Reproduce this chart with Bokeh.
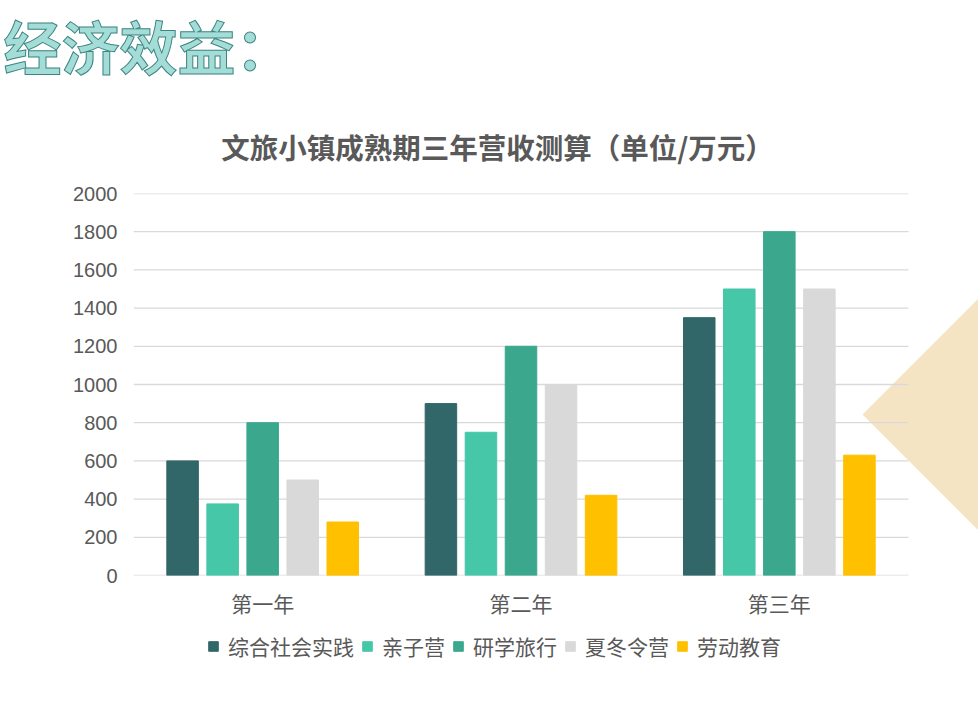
from bokeh.plotting import figure
from bokeh.layouts import column
from bokeh.models import (Range1d, ColumnDataSource, Legend, LegendItem, Label, Title,
                          PolyAnnotation, FixedTicker, CustomJSTickFormatter)
from bokeh.transform import dodge
from bokeh.embed import file_html
from bokeh.resources import INLINE

# ---- data ----
years = ["第一年", "第二年", "第三年"]
series = ["综合社会实践", "亲子营", "研学旅行", "夏冬令营", "劳动教育"]
v_zonghe = [600, 900, 1350]
v_qinzi = [375, 750, 1500]
v_yanxue = [800, 1200, 1800]
v_xiadong = [500, 1000, 1500]
v_laodong = [280, 420, 630]
y_ticks = [0, 200, 400, 600, 800, 1000, 1200, 1400, 1600, 1800, 2000]
heading = "经济效益："
chart_title = "文旅小镇成熟期三年营收测算（单位/万元）"

# ---- style ----
colors = ["#326769", "#46C7A8", "#3BA88E", "#D9D9D9", "#FFC000"]
offsets = [-0.31, -0.155, 0.0, 0.155, 0.31]
bar_w = 0.122
CJK = "Noto Sans CJK SC"
GREY = "#595959"

W = 978
FL = 133             # frame left (all stacked figures share it)
PAD_T = 15           # room above the chart frame for the top tick label
TOP_H = 193 - PAD_T  # header strip height
CH_H = 427 + PAD_T   # chart figure height
LEG_H = 56
CAT_PX = 775 / 3.0   # pixels per category
x_end = (W - FL) / CAT_PX

common = dict(output_backend="svg", toolbar_location=None)

# ---------- header ----------
top = figure(width=W, height=TOP_H, x_range=Range1d(0, 1), y_range=Range1d(0, 1),
             min_border=0, min_border_left=FL, **common)
top.axis.visible = False
top.grid.visible = False
top.outline_line_color = None
head_kw = dict(text=heading, align="left", offset=3 - FL, standoff=0,
               text_font=CJK, text_font_size="58px", text_font_style="bold",
               text_color="#A4DCD7")
if "text_outline_color" in Title.properties():
    head_kw["text_outline_color"] = "#3D8581"
top.add_layout(Title(**head_kw), "above")
top.add_layout(Label(x=497 - FL, y=TOP_H - 146, x_units="screen", y_units="screen",
                     text=chart_title, text_align="center", text_baseline="middle",
                     text_font=CJK, text_font_size="28.5px", text_font_style="bold",
                     text_color=GREY))

# ---------- chart ----------
xc = [i + 0.5 for i in range(len(years))]
src = ColumnDataSource(data=dict(xc=xc, s0=v_zonghe, s1=v_qinzi, s2=v_yanxue,
                                 s3=v_xiadong, s4=v_laodong))

p = figure(width=W, height=CH_H, x_range=Range1d(0, x_end), y_range=Range1d(0, 2000),
           min_border_left=FL, min_border_right=0, min_border_top=PAD_T,
           min_border_bottom=CH_H - PAD_T - 383, **common)
p.outline_line_color = None
p.grid.visible = False

# decorative triangle (screen units: from frame bottom-left)
tri = PolyAnnotation(xs=[862 - FL, 1030 - FL, 1030 - FL],
                     ys=[576 - 415, 576 - 247, 576 - 583],
                     xs_units="screen", ys_units="screen",
                     fill_color="#F5E4C4", fill_alpha=1.0, line_color=None, level="underlay")
p.add_layout(tri)

# horizontal grid lines limited to the category area
p.segment(x0=[0] * len(y_ticks), x1=[len(years)] * len(y_ticks), y0=y_ticks, y1=y_ticks,
          line_color="#D9D9D9", line_width=1.3)

for i, name in enumerate(series):
    p.vbar(x=dodge("xc", offsets[i]), top="s%d" % i, width=bar_w, source=src,
           fill_color=colors[i], line_color=colors[i])

p.yaxis.ticker = FixedTicker(ticks=y_ticks)
p.yaxis.axis_line_color = None
p.yaxis.major_tick_line_color = None
p.yaxis.minor_tick_line_color = None
p.yaxis.major_tick_out = 0
p.yaxis.major_label_standoff = 16
p.yaxis.major_label_text_font = "Liberation Sans"
p.yaxis.major_label_text_font_size = "20px"
p.yaxis.major_label_text_color = GREY

p.xaxis.ticker = FixedTicker(ticks=xc)
p.xaxis.formatter = CustomJSTickFormatter(args=dict(labels=years),
                                          code="return labels[Math.round(tick - 0.5)] || '';")
p.xaxis.axis_line_color = None
p.xaxis.major_tick_line_color = None
p.xaxis.minor_tick_line_color = None
p.xaxis.major_tick_out = 0
p.xaxis.major_label_standoff = 12
p.xaxis.major_label_text_font = CJK
p.xaxis.major_label_text_font_size = "21px"
p.xaxis.major_label_text_color = GREY

# ---------- legend strip ----------
lg = figure(width=W, height=LEG_H, x_range=Range1d(0, 1), y_range=Range1d(5000, 6000),
            min_border=0, min_border_left=FL, **common)
lg.axis.visible = False
lg.grid.visible = False
lg.outline_line_color = None
src_l = ColumnDataSource(data=dict(xc=[0.5] * len(years), s0=v_zonghe, s1=v_qinzi, s2=v_yanxue,
                                   s3=v_xiadong, s4=v_laodong))
items = []
for i, name in enumerate(series):
    r = lg.vbar(x="xc", top="s%d" % i, width=0.1, source=src_l,
                fill_color=colors[i], line_color=colors[i], visible=False)
    items.append(LegendItem(label=name, renderers=[r]))
legend = Legend(items=items, orientation="horizontal", location=(207 - FL, 15),
                glyph_width=12, glyph_height=12, label_standoff=9, spacing=7,
                label_text_font=CJK, label_text_font_size="21px", label_text_color=GREY,
                border_line_color=None, background_fill_alpha=0, margin=0, padding=0)
lg.add_layout(legend)

layout = column(top, p, lg)
open("out.html", "w").write(file_html(layout, INLINE))
